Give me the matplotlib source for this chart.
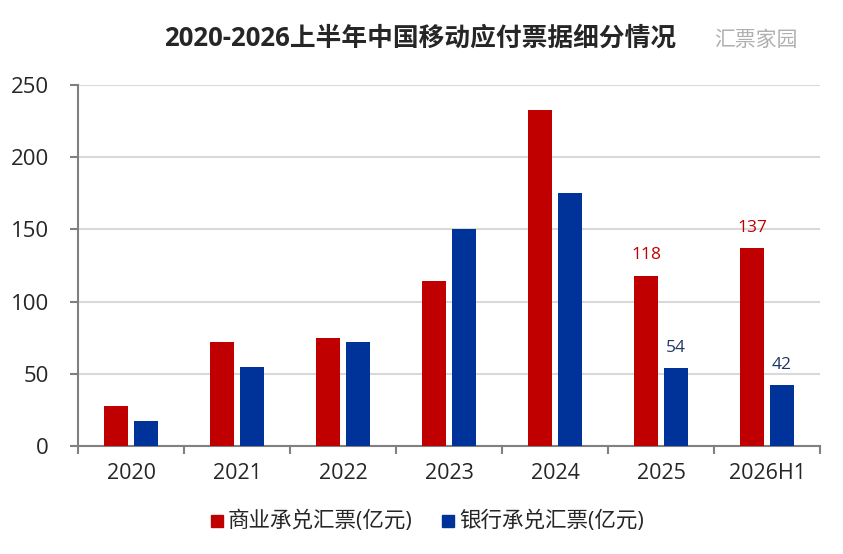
import numpy as np
import matplotlib
matplotlib.use('Agg')
import matplotlib.pyplot as plt
from matplotlib.patches import Rectangle

plt.rcParams['font.family'] = ['Open Sans', 'Noto Sans CJK SC', 'DejaVu Sans']

# 数据
categories = ['2020', '2021', '2022', '2023', '2024', '2025', '2026H1']
commercial = [28, 72, 75, 114, 233, 118, 137]
bank = [17, 55, 72, 150, 175, 54, 42]
label_idx = [5, 6]  # 只标注最后两组

series_names = ['商业承兑汇票(亿元)', '银行承兑汇票(亿元)']
red = '#C00000'
blue = '#003399'
blue_text = '#1F3864'

fig = plt.figure(figsize=(8.43, 5.54), dpi=100)
ax = fig.add_axes([78 / 843, 1 - 446 / 554, (820 - 78) / 843, (446 - 85) / 554])

x = np.arange(len(categories))
w = 0.226
off = 0.141
ax.bar(x - off, commercial, width=w, color=red, zorder=3)
ax.bar(x + off, bank, width=w, color=blue, zorder=3)

for i in label_idx:
    ax.annotate(str(commercial[i]), (x[i] - off, commercial[i]), xytext=(0, 9),
                textcoords='offset points', ha='center', va='bottom',
                fontsize=12.5, color=red)
    ax.annotate(str(bank[i]), (x[i] + off, bank[i]), xytext=(0, 9),
                textcoords='offset points', ha='center', va='bottom',
                fontsize=12.5, color=blue_text)

ax.set_xlim(-0.5, len(categories) - 0.5)
ax.set_ylim(0, 250)
ax.set_yticks(np.arange(0, 251, 50))
ax.yaxis.grid(True, color='#D9D9D9', linewidth=1.5, zorder=0)
ax.set_axisbelow(True)

# x轴: 分隔刻度 + 居中标签
ax.set_xticks(np.arange(-0.5, len(categories), 1.0))
ax.set_xticklabels([])
ax.set_xticks(x, minor=True)
ax.set_xticklabels(categories, minor=True, fontsize=15.5, color='#262626')
ax.tick_params(axis='x', which='major', length=6, width=1.5, color='#808080', direction='out')
ax.tick_params(axis='x', which='minor', length=0, pad=12)
ax.tick_params(axis='y', length=6, width=1.5, color='#808080', labelsize=16,
               labelcolor='#262626', pad=15)

for s in ['top', 'right']:
    ax.spines[s].set_visible(False)
for s in ['left', 'bottom']:
    ax.spines[s].set_color('#808080')
    ax.spines[s].set_linewidth(1.5)

fig.text(420 / 843, 1 - 38 / 554, '2020-2026上半年中国移动应付票据细分情况',
         ha='center', va='center', fontsize=18.5, fontweight='bold', color='#262626')
fig.text(756 / 843, 1 - 40 / 554, '汇票家园', ha='center', va='center',
         fontsize=15, color='#B0B0B0', family=['Noto Sans CJK SC'])

# 图例
ly = 1 - 521 / 554
for px, name, c in [(211, series_names[0], red), (442, series_names[1], blue)]:
    fig.patches.append(Rectangle((px / 843, ly - 6 / 554), 12 / 843, 12 / 554,
                                 transform=fig.transFigure, color=c))
    fig.text((px + 17) / 843, ly, name, ha='left', va='center', fontsize=15.5, color='#262626')

fig.savefig('out.png', dpi=100)
